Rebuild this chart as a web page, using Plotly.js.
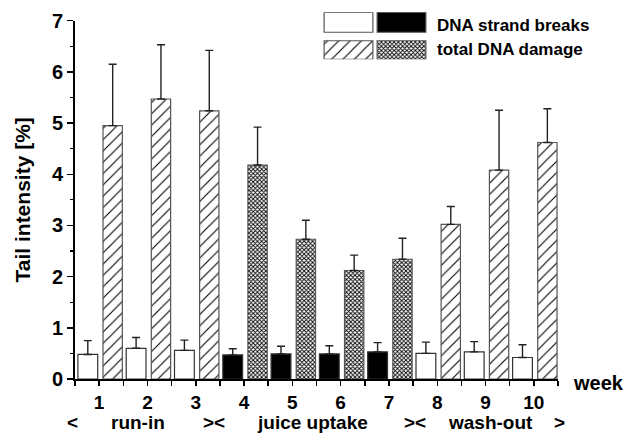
<!DOCTYPE html>
<html>
<head>
<meta charset="utf-8">
<script src="https://cdn.plot.ly/plotly-3.0.1.min.js"></script>
<style>html,body{margin:0;padding:0;background:#fff;}#chart{width:633px;height:434px;}</style>
</head>
<body>
<div id="chart"></div>
<script>
// ---- data ----
const weeks = [1, 2, 3, 4, 5, 6, 7, 8, 9, 10];
const weekLabels = ["1", "2", "3", "4", "5", "6", "7", "8", "9", "10"];
const phases = ["run-in", "run-in", "run-in", "juice", "juice", "juice", "juice", "wash-out", "wash-out", "wash-out"];
const strandBreaks = [0.48, 0.60, 0.56, 0.47, 0.49, 0.49, 0.53, 0.50, 0.53, 0.42];
const strandBreaksSD = [0.27, 0.21, 0.20, 0.12, 0.15, 0.16, 0.18, 0.22, 0.20, 0.25];
const totalDamage = [4.95, 5.47, 5.24, 4.18, 2.73, 2.12, 2.34, 3.02, 4.08, 4.62];
const totalDamageSD = [1.20, 1.06, 1.18, 0.74, 0.37, 0.30, 0.41, 0.35, 1.17, 0.66];
const yTicks = [0, 1, 2, 3, 4, 5, 6, 7];
const legendLabels = ["DNA strand breaks", "total DNA damage"];
const phaseLabels = ["<", "run-in", "><", "juice uptake", "><", "wash-out", ">"];
const phaseLabelPx = [72.5, 137.5, 213.5, 312.5, 415, 490.5, 559];

// ---- styling derived from data ----
const isJuice = phases.map(p => p === "juice");
const sbColors = isJuice.map(j => j ? "#000000" : "#ffffff");
const tdShapes = isJuice.map(j => j ? "x" : "/");
const tdSizes = isJuice.map(j => j ? 3 : 8);
const tdSolid = isJuice.map(j => j ? 0.5 : 0.14);

const FONT = "Liberation Sans, Arial, sans-serif";

const traces = [
  {
    type: "bar", x: weeks, y: strandBreaks, name: legendLabels[0],
    width: 0.41, offset: -0.44,
    marker: { color: sbColors, line: { color: "#333", width: 1.2 } },
    error_y: { type: "data", symmetric: false, array: strandBreaksSD, arrayminus: strandBreaks.map(() => 0),
               color: "#222", thickness: 1.4, width: 4 },
    showlegend: false, hoverinfo: "skip"
  },
  {
    type: "bar", x: weeks, y: totalDamage, name: legendLabels[1],
    width: 0.40, offset: 0.08,
    marker: { color: "#ffffff",
              pattern: { shape: tdShapes, size: tdSizes, solidity: tdSolid, fgcolor: "#000", bgcolor: "#fff", fillmode: "replace" },
              line: { color: "#555", width: 1.2 } },
    error_y: { type: "data", symmetric: false, array: totalDamageSD, arrayminus: totalDamage.map(() => 0),
               color: "#222", thickness: 1.4, width: 4 },
    showlegend: false, hoverinfo: "skip"
  }
];

// legend swatches, drawn as bars on their own small hidden axes
const swatches = [
  { x: 0, y: 0.85, base: 1.15, color: "#fff", shape: "" },
  { x: 1, y: 0.85, base: 1.15, color: "#000", shape: "" },
  { x: 0, y: 0.79, base: 0, color: "#fff", shape: "/", size: 8, solidity: 0.14 },
  { x: 1, y: 0.79, base: 0, color: "#fff", shape: "x", size: 3, solidity: 0.5 }
];
swatches.forEach(s => {
  const m = { color: s.color, line: { color: "#555", width: 1.2 } };
  if (s.shape) m.pattern = { shape: s.shape, size: s.size, solidity: s.solidity, fgcolor: "#000", bgcolor: "#fff", fillmode: "replace" };
  traces.push({ type: "bar", xaxis: "x2", yaxis: "y2", x: [s.x], y: [s.y], base: [s.base], width: 0.92,
                marker: m, showlegend: false, hoverinfo: "skip" });
});

const px2x = px => (px - 75) / 483;
const px2y = py => (379 - py) / 369;

const annotations = [
  { xref: "paper", yref: "paper", x: px2x(435), y: px2y(25.7), xanchor: "left", yanchor: "middle",
    text: "<b>" + legendLabels[0] + "</b>", showarrow: false, font: { family: FONT, size: 17, color: "#000" } },
  { xref: "paper", yref: "paper", x: px2x(435), y: px2y(49.3), xanchor: "left", yanchor: "middle",
    text: "<b>" + legendLabels[1] + "</b>", showarrow: false, font: { family: FONT, size: 17, color: "#000" } },
  { xref: "paper", yref: "paper", x: px2x(571), y: px2y(383), xanchor: "left", yanchor: "middle",
    text: "<b>week</b>", showarrow: false, font: { family: FONT, size: 20, color: "#000" } }
];
phaseLabels.forEach((t, i) => {
  annotations.push({ xref: "paper", yref: "paper", x: px2x(phaseLabelPx[i]), y: px2y(422), xanchor: "center", yanchor: "middle",
    text: "<b>" + t.replace(/</g, "&lt;").replace(/>/g, "&gt;") + "</b>", showarrow: false,
    font: { family: FONT, size: 19, color: "#000" } });
});

const layout = {
  width: 633, height: 434,
  margin: { l: 75, r: 75, t: 10, b: 55 },
  paper_bgcolor: "#fff", plot_bgcolor: "#fff",
  barmode: "overlay",
  font: { family: FONT, color: "#000" },
  xaxis: {
    range: [0.5, 10.5], tickmode: "array", tickvals: weeks, ticktext: weekLabels,
    showline: true, linecolor: "#000", linewidth: 2, ticks: "outside", ticklen: 5, tickwidth: 1.5, tickcolor: "#000",
    minor: { tickmode: "array", tickvals: weeks.map(w => w - 0.5).concat([10.5]), ticks: "outside", ticklen: 5, tickwidth: 1.5, tickcolor: "#000", showgrid: false },
    tickfont: { family: FONT, size: 19, weight: "bold", color: "#000" },
    showgrid: false, zeroline: false, fixedrange: true
  },
  yaxis: {
    range: [0, 7], domain: [0, (379 - 20.7) / 369], tickmode: "array", tickvals: yTicks,
    showline: true, linecolor: "#000", linewidth: 2, ticks: "outside", ticklen: 6, tickwidth: 1.5, tickcolor: "#000",
    minor: { dtick: 0.5, ticks: "outside", ticklen: 3, tickwidth: 1.2, tickcolor: "#000", showgrid: false },
    tickfont: { family: FONT, size: 20, weight: "bold", color: "#000" },
    title: { text: "<b>Tail intensity [%]</b>", font: { family: FONT, size: 21, color: "#000" }, standoff: 16 },
    showgrid: false, zeroline: false, fixedrange: true
  },
  xaxis2: { domain: [px2x(322), px2x(428)], anchor: "y2", range: [-0.5, 1.5], visible: false, fixedrange: true },
  yaxis2: { domain: [px2y(59.3), px2y(12.3)], anchor: "x2", range: [0, 2], visible: false, fixedrange: true },
  annotations: annotations,
  showlegend: false
};

Plotly.newPlot("chart", traces, layout, { displayModeBar: false, staticPlot: true });
</script>
</body>
</html>
